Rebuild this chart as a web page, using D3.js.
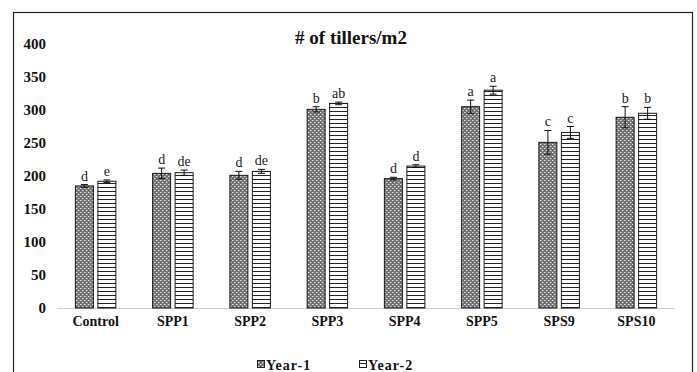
<!DOCTYPE html>
<html><head><meta charset="utf-8">
<script src="https://cdn.jsdelivr.net/npm/d3@7"></script>
<style>body{margin:0;background:#fff}svg{display:block}</style>
</head><body>
<svg id="c" width="697" height="372"></svg>
<script>
const categories = ["Control","SPP1","SPP2","SPP3","SPP4","SPP5","SPS9","SPS10"];
const seriesNames = ["Year-1","Year-2"];
const year1 = [185, 204, 201, 301, 196, 305, 251, 289];
const year2 = [192, 205, 207, 310, 215, 330, 266, 295];
const err1 = [2, 8, 6, 4, 2, 10, 18, 16];
const err2 = [2, 4, 3, 2, 2, 6, 9, 9];
const letters1 = ["d","d","d","b","d","a","c","b"];
const letters2 = ["e","de","de","ab","d","a","c","b"];
const yTicks = [0,50,100,150,200,250,300,350,400];

const svg = d3.select("#c");
const serif = "Liberation Serif, Times New Roman, serif";
const defs = svg.append("defs");
// Year-1 dotted grey pattern
const p1 = defs.append("pattern").attr("id","p1").attr("patternUnits","userSpaceOnUse").attr("width",4).attr("height",4);
p1.append("rect").attr("width",4).attr("height",4).attr("fill","#777");
[[0,0,"#e0e0e0"],[2,2,"#e0e0e0"],[1,0,"#a0a0a0"],[3,2,"#a0a0a0"],[0,2,"#5a5a5a"]].forEach(d=>
  p1.append("rect").attr("x",d[0]).attr("y",d[1]).attr("width",1).attr("height",1).attr("fill",d[2]));
// Year-2 horizontal lines
const p2 = defs.append("pattern").attr("id","p2").attr("patternUnits","userSpaceOnUse").attr("width",4).attr("height",4);
p2.append("rect").attr("width",4).attr("height",4).attr("fill","#fff");
p2.append("rect").attr("y",3).attr("width",4).attr("height",1).attr("fill","#222");

// outer border
svg.append("rect").attr("x",13.5).attr("y",12.5).attr("width",679).attr("height",370).attr("fill","none").attr("stroke","#222").attr("stroke-width",1.2);

const x0 = d3.scaleBand().domain(categories).range([57,675]);
const y = d3.scaleLinear().domain([0,400]).range([308,44]);
const barW = 18, gap = 4.5;
const offs = [-(gap/2+barW), gap/2];

// title
svg.append("text").attr("x",351).attr("y",44).attr("text-anchor","middle")
  .attr("font-family",serif).attr("font-weight","bold").attr("font-size",19).attr("fill","#111").text("# of tillers/m2");

// y axis labels
const yAxis = d3.axisLeft(y).tickValues(yTicks).tickSize(0).tickPadding(0);
const ga = svg.append("g").attr("transform","translate(46,0)").call(yAxis);
ga.select(".domain").remove();
ga.selectAll("text").attr("font-family",serif).attr("font-weight","bold").attr("font-size",15).attr("fill","#111");

// baseline
svg.append("line").attr("x1",57).attr("x2",675).attr("y1",y(0)+0.5).attr("y2",y(0)+0.5).attr("stroke","#d0d0d0").attr("stroke-width",1);

// x axis labels
const xAxis = d3.axisBottom(x0).tickSize(0).tickPadding(0);
const gx = svg.append("g").attr("transform","translate(0,313)").call(xAxis);
gx.select(".domain").remove();
gx.selectAll("text").attr("font-family",serif).attr("font-weight","bold").attr("font-size",14).attr("fill","#111").attr("dy","0.9em");

const series = [
  {vals:year1, errs:err1, lets:letters1, fill:"url(#p1)"},
  {vals:year2, errs:err2, lets:letters2, fill:"url(#p2)"}
];
series.forEach((s,si)=>{
  const g = svg.append("g");
  categories.forEach((c,i)=>{
    const cx = x0(c)+x0.bandwidth()/2+offs[si];
    const v = s.vals[i], e = s.errs[i];
    g.append("rect").attr("x",cx).attr("y",y(v)).attr("width",barW).attr("height",y(0)-y(v))
      .attr("fill",s.fill).attr("stroke","#1a1a1a").attr("stroke-width",1);
    const mx = cx+barW/2;
    g.append("line").attr("x1",mx).attr("x2",mx).attr("y1",y(v+e)).attr("y2",y(v-e)).attr("stroke","#111").attr("stroke-width",1);
    [v+e, v-e].forEach(t=>g.append("line").attr("x1",mx-3.5).attr("x2",mx+3.5).attr("y1",y(t)).attr("y2",y(t)).attr("stroke","#111").attr("stroke-width",1));
    g.append("text").attr("x",mx).attr("y",y(v+e)-4).attr("text-anchor","middle")
      .attr("font-family",serif).attr("font-size",14).attr("fill","#222").text(s.lets[i]);
  });
});

// legend
const leg = [{x:257, fill:"url(#p1)", name:seriesNames[0]},{x:359, fill:"url(#p2)", name:seriesNames[1]}];
leg.forEach(l=>{
  svg.append("rect").attr("x",l.x+0.5).attr("y",360.5).attr("width",7).attr("height",7).attr("fill",l.fill).attr("stroke","#222").attr("stroke-width",1);
  svg.append("text").attr("x",l.x+9).attr("y",369.5).attr("font-family",serif).attr("font-weight","bold").attr("font-size",14).attr("letter-spacing",1).attr("fill","#111").text(l.name);
});
</script>
</body></html>
